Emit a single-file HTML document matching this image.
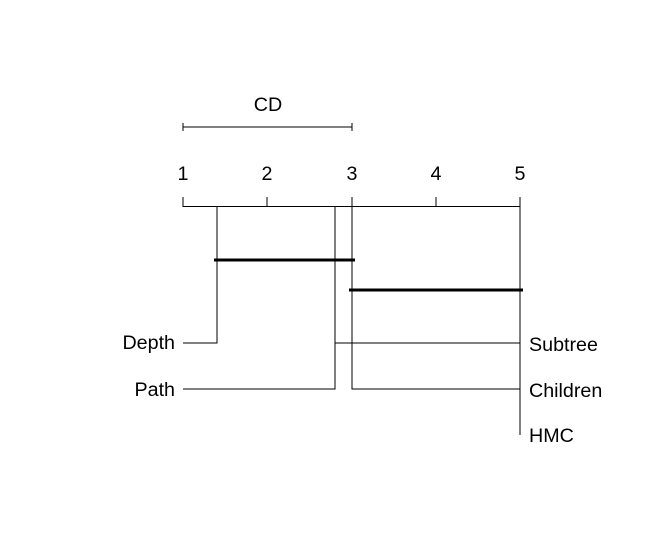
<!DOCTYPE html>
<html><head><style>html,body{margin:0;padding:0;background:#fff}svg{display:block}</style></head>
<body>
<svg width="666" height="558" xmlns="http://www.w3.org/2000/svg" font-family="Liberation Sans, Arial, sans-serif" font-size="19.7">
<rect width="666" height="558" fill="#fff"/>
<g stroke="#000" stroke-width="1" fill="none" shape-rendering="crispEdges">
<line x1="183" y1="127" x2="352" y2="127"/>
<line x1="183" y1="123" x2="183" y2="131"/>
<line x1="352" y1="123" x2="352" y2="131"/>
<line x1="183" y1="206.5" x2="520" y2="206.5"/>
<line x1="183" y1="197" x2="183" y2="207"/>
<line x1="267" y1="197" x2="267" y2="207"/>
<line x1="352" y1="197" x2="352" y2="207"/>
<line x1="436" y1="197" x2="436" y2="207"/>
<line x1="520" y1="197" x2="520" y2="435"/>
<polyline points="217,207 217,343 183,343"/>
<polyline points="335,207 335,389 183,389"/>
<line x1="335" y1="343" x2="520" y2="343"/>
<polyline points="352,207 352,389 520,389"/>
</g>
<g stroke="#000" stroke-width="3">
<line x1="214" y1="260" x2="355" y2="260"/>
<line x1="349" y1="290" x2="523" y2="290"/>
</g>
<g fill="#000">
<text x="268" y="111" text-anchor="middle">CD</text>
<text x="183" y="180" text-anchor="middle">1</text>
<text x="267" y="180" text-anchor="middle">2</text>
<text x="352" y="180" text-anchor="middle">3</text>
<text x="436" y="180" text-anchor="middle">4</text>
<text x="520" y="180" text-anchor="middle">5</text>
<text x="175" y="349" text-anchor="end">Depth</text>
<text x="175" y="396" text-anchor="end">Path</text>
<text x="529" y="351">Subtree</text>
<text x="529" y="397">Children</text>
<text x="529" y="442">HMC</text>
</g>
</svg>
</body></html>
